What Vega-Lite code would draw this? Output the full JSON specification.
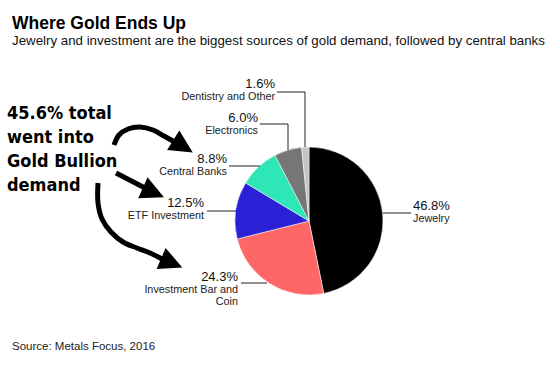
{
  "$schema": "https://vega.github.io/schema/vega-lite/v6.json",
  "width": 546,
  "height": 313,
  "autosize": "none",
  "padding": {"left": 12, "top": 58, "right": 0, "bottom": 0},
  "background": "white",
  "config": {"view": {"stroke": null}},
  "title": {
    "text": "Where Gold Ends Up",
    "subtitle": "Jewelry and investment are the biggest sources of gold demand, followed by central banks",
    "anchor": "start",
    "frame": "group",
    "font": "Liberation Sans",
    "fontSize": 17.5,
    "fontWeight": "bold",
    "color": "#000",
    "subtitleFont": "Liberation Sans",
    "subtitleFontSize": 13.3,
    "subtitleColor": "#111",
    "subtitlePadding": 1,
    "offset": 11
  },
  "datasets": {
    "pie": [
      {"source": "Jewelry", "share": 46.8, "o": 1},
      {"source": "Investment Bar and Coin", "share": 24.3, "o": 2},
      {"source": "ETF Investment", "share": 12.5, "o": 3},
      {"source": "Central Banks", "share": 8.8, "o": 4},
      {"source": "Electronics", "share": 6.0, "o": 5},
      {"source": "Dentistry and Other", "share": 1.6, "o": 6}
    ],
    "labelsRight": [
      {"pct": "1.6%", "name": "Dentistry and Other", "x": -34, "y": -133},
      {"pct": "6.0%", "name": "Electronics", "x": -51, "y": -99},
      {"pct": "8.8%", "name": "Central Banks", "x": -82, "y": -58},
      {"pct": "12.5%", "name": "ETF Investment", "x": -105, "y": -14},
      {"pct": "24.3%", "name": "Investment Bar and\nCoin", "x": -71, "y": 60}
    ],
    "labelsLeft": [
      {"pct": "46.8%", "name": "Jewelry", "x": 104, "y": -11}
    ],
    "leaders": [
      {"source": "Dentistry and Other", "i": 1, "x": -32, "y": -129},
      {"source": "Dentistry and Other", "i": 2, "x": -4, "y": -129},
      {"source": "Dentistry and Other", "i": 3, "x": -4, "y": -74},
      {"source": "Electronics", "i": 1, "x": -49, "y": -97},
      {"source": "Electronics", "i": 2, "x": -21, "y": -97},
      {"source": "Electronics", "i": 3, "x": -21, "y": -71},
      {"source": "Central Banks", "i": 1, "x": -80, "y": -55},
      {"source": "Central Banks", "i": 2, "x": -49, "y": -55},
      {"source": "ETF Investment", "i": 1, "x": -102, "y": -10},
      {"source": "ETF Investment", "i": 2, "x": -73, "y": -10},
      {"source": "Investment Bar and Coin", "i": 1, "x": -68, "y": 62},
      {"source": "Investment Bar and Coin", "i": 2, "x": -42, "y": 62},
      {"source": "Jewelry", "i": 1, "x": 74, "y": -8},
      {"source": "Jewelry", "i": 2, "x": 102, "y": -8}
    ],
    "arrows": [
      {"arrow": "A1", "i": 1, "x": -195, "y": -76},
      {"arrow": "A1", "i": 2, "x": -190, "y": -86},
      {"arrow": "A1", "i": 3, "x": -181, "y": -92},
      {"arrow": "A1", "i": 4, "x": -169, "y": -94},
      {"arrow": "A1", "i": 5, "x": -156, "y": -91},
      {"arrow": "A1", "i": 6, "x": -145, "y": -85},
      {"arrow": "A1", "i": 7, "x": -136, "y": -80},
      {"arrow": "A2", "i": 1, "x": -193, "y": -48},
      {"arrow": "A2", "i": 2, "x": -164, "y": -33},
      {"arrow": "A3", "i": 1, "x": -211, "y": -38},
      {"arrow": "A3", "i": 2, "x": -211, "y": -18},
      {"arrow": "A3", "i": 3, "x": -207, "y": -2},
      {"arrow": "A3", "i": 4, "x": -198, "y": 11},
      {"arrow": "A3", "i": 5, "x": -186, "y": 21},
      {"arrow": "A3", "i": 6, "x": -172, "y": 27},
      {"arrow": "A3", "i": 7, "x": -159, "y": 32},
      {"arrow": "A3", "i": 8, "x": -147, "y": 38}
    ],
    "heads": [
      {"arrow": "A1", "x": -126, "y": -74.7, "ang": 32},
      {"arrow": "A2", "x": -155.6, "y": -28.5, "ang": 24},
      {"arrow": "A3", "x": -137.3, "y": 42, "ang": 23}
    ],
    "notes": [
      {"note": "45.6% total\nwent into\nGold Bullion\ndemand", "x": -302, "y": -102}
    ],
    "sources": [
      {"t": "Source: Metals Focus, 2016", "x": -297, "y": 129}
    ]
  },
  "layer": [
    {
      "data": {"name": "pie"},
      "mark": {"type": "arc", "radius": 74, "stroke": "#fff", "strokeWidth": 0.5},
      "encoding": {
        "x": {"datum": 0, "type": "quantitative", "scale": {"domain": [-297, 249], "nice": false, "zero": false}, "axis": null},
        "y": {"datum": 0, "type": "quantitative", "scale": {"domain": [-163, 150], "reverse": true, "nice": false, "zero": false}, "axis": null},
        "theta": {"field": "share", "type": "quantitative", "stack": true},
        "order": {"field": "o", "type": "quantitative"},
        "color": {
          "field": "source",
          "type": "nominal",
          "legend": null,
          "scale": {
            "domain": ["Jewelry", "Investment Bar and Coin", "ETF Investment", "Central Banks", "Electronics", "Dentistry and Other"],
            "range": ["#000000", "#ff6666", "#2c20d6", "#2ee6b6", "#767676", "#c4c4c4"]
          }
        }
      }
    },
    {
      "data": {"name": "leaders"},
      "mark": {"type": "line", "color": "#222", "strokeWidth": 1},
      "encoding": {
        "x": {"field": "x", "type": "quantitative", "scale": {"domain": [-297, 249], "nice": false, "zero": false}, "axis": null},
        "y": {"field": "y", "type": "quantitative", "scale": {"domain": [-163, 150], "reverse": true, "nice": false, "zero": false}, "axis": null},
        "detail": {"field": "source", "type": "nominal"},
        "order": {"field": "i", "type": "quantitative"}
      }
    },
    {
      "data": {"name": "labelsRight"},
      "mark": {"type": "text", "align": "right", "baseline": "alphabetic", "font": "Liberation Sans", "fontSize": 13, "color": "#111"},
      "encoding": {
        "x": {"field": "x", "type": "quantitative", "axis": null},
        "y": {"field": "y", "type": "quantitative", "axis": null},
        "text": {"field": "pct", "type": "nominal"}
      }
    },
    {
      "data": {"name": "labelsRight"},
      "mark": {"type": "text", "align": "right", "baseline": "alphabetic", "dy": 11.5, "font": "Liberation Sans", "fontSize": 10.8, "color": "#222", "lineBreak": "\n", "lineHeight": 12},
      "encoding": {
        "x": {"field": "x", "type": "quantitative", "axis": null},
        "y": {"field": "y", "type": "quantitative", "axis": null},
        "text": {"field": "name", "type": "nominal"}
      }
    },
    {
      "data": {"name": "labelsLeft"},
      "mark": {"type": "text", "align": "left", "baseline": "alphabetic", "font": "Liberation Sans", "fontSize": 13, "color": "#111"},
      "encoding": {
        "x": {"field": "x", "type": "quantitative", "axis": null},
        "y": {"field": "y", "type": "quantitative", "axis": null},
        "text": {"field": "pct", "type": "nominal"}
      }
    },
    {
      "data": {"name": "labelsLeft"},
      "mark": {"type": "text", "align": "left", "baseline": "alphabetic", "dy": 11.5, "font": "Liberation Sans", "fontSize": 10.8, "color": "#222"},
      "encoding": {
        "x": {"field": "x", "type": "quantitative", "axis": null},
        "y": {"field": "y", "type": "quantitative", "axis": null},
        "text": {"field": "name", "type": "nominal"}
      }
    },
    {
      "data": {"name": "arrows"},
      "mark": {"type": "line", "color": "#000", "strokeWidth": 5, "interpolate": "catmull-rom"},
      "encoding": {
        "x": {"field": "x", "type": "quantitative", "axis": null},
        "y": {"field": "y", "type": "quantitative", "axis": null},
        "detail": {"field": "arrow", "type": "nominal"},
        "order": {"field": "i", "type": "quantitative"}
      }
    },
    {
      "data": {"name": "heads"},
      "mark": {"type": "point", "shape": "M1,0L-1,-1L-1,1Z", "size": 529, "filled": true, "color": "#000", "opacity": 1, "strokeWidth": 0},
      "encoding": {
        "x": {"field": "x", "type": "quantitative", "axis": null},
        "y": {"field": "y", "type": "quantitative", "axis": null},
        "angle": {"field": "ang", "type": "quantitative", "scale": null}
      }
    },
    {
      "data": {"name": "notes"},
      "mark": {"type": "text", "align": "left", "baseline": "alphabetic", "font": "DejaVu Sans Condensed", "fontWeight": "bold", "fontSize": 18, "color": "#000", "lineBreak": "\n", "lineHeight": 24},
      "encoding": {
        "x": {"field": "x", "type": "quantitative", "axis": null},
        "y": {"field": "y", "type": "quantitative", "axis": null},
        "text": {"field": "note", "type": "nominal"}
      }
    },
    {
      "data": {"name": "sources"},
      "mark": {"type": "text", "align": "left", "baseline": "alphabetic", "font": "Liberation Sans", "fontSize": 11.5, "color": "#222"},
      "encoding": {
        "x": {"field": "x", "type": "quantitative", "axis": null},
        "y": {"field": "y", "type": "quantitative", "axis": null},
        "text": {"field": "t", "type": "nominal"}
      }
    }
  ]
}
